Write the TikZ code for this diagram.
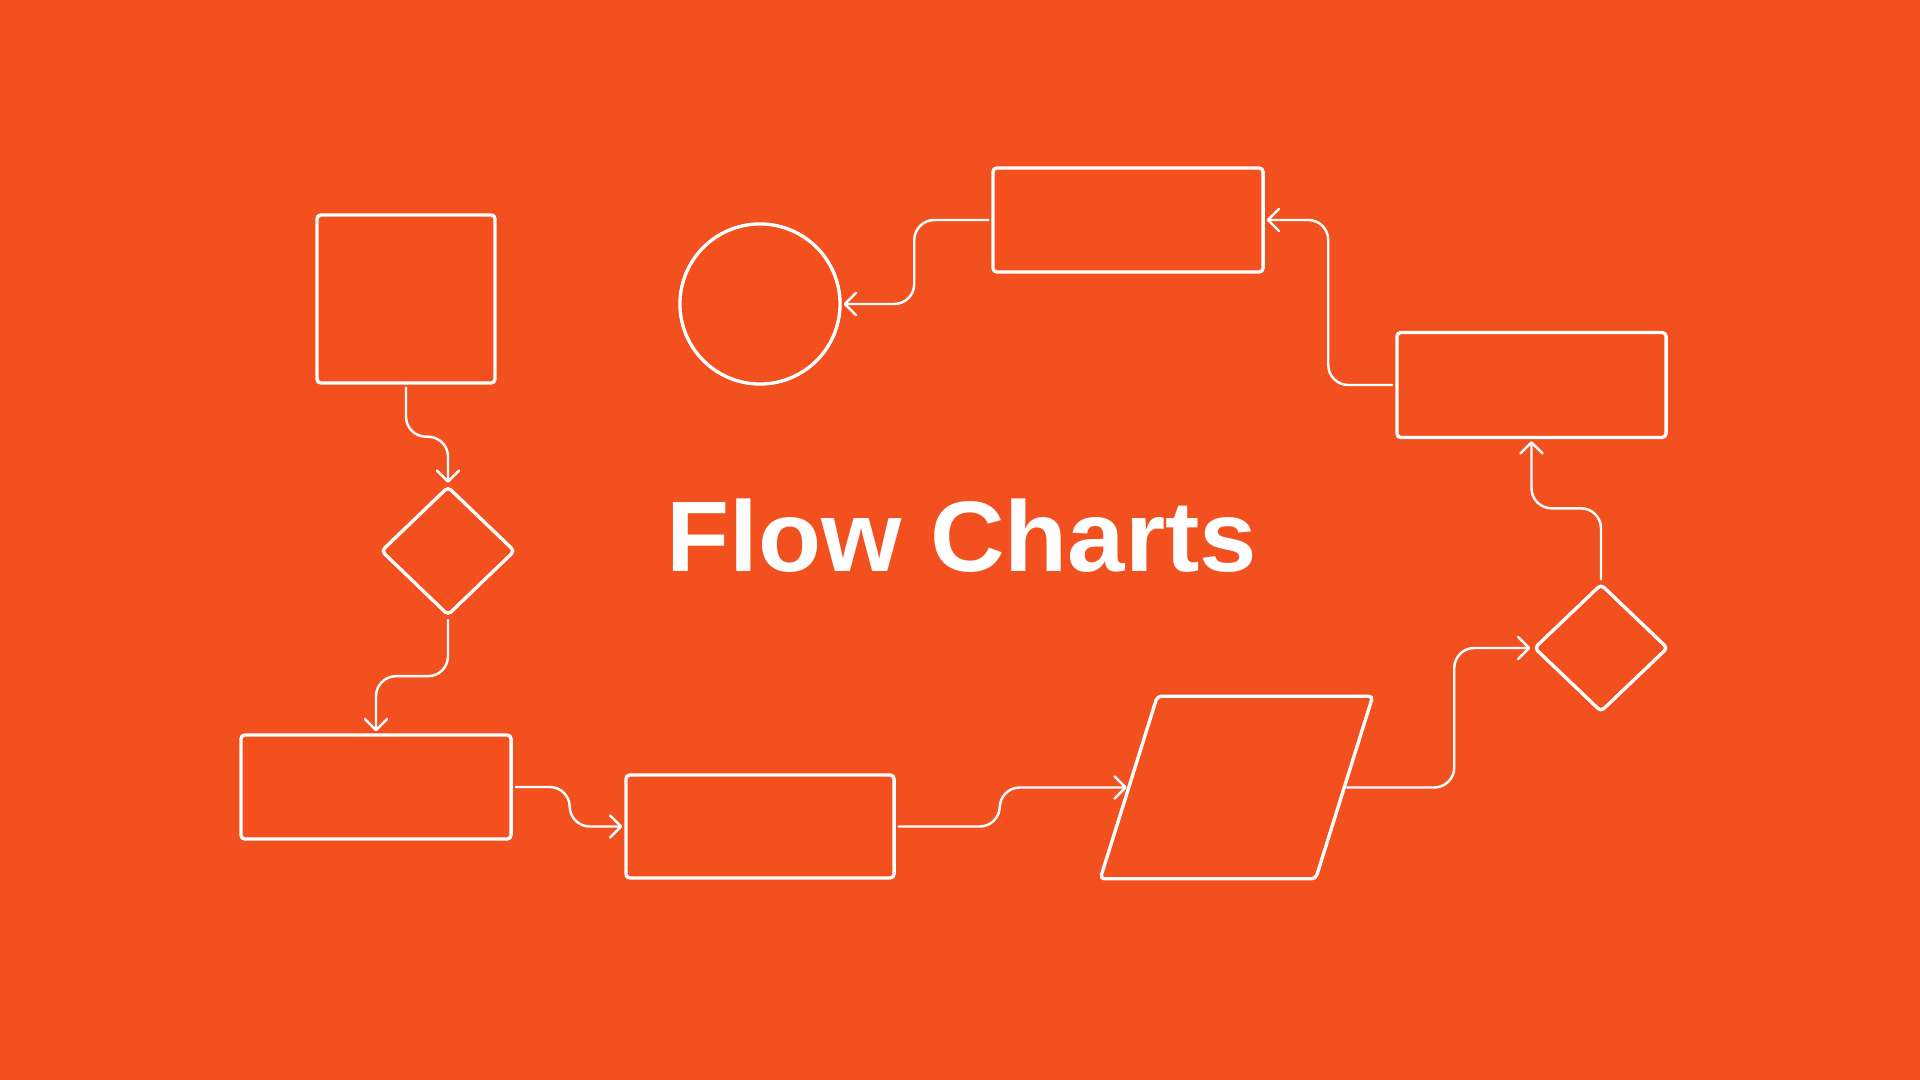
\documentclass[tikz,border=0pt]{standalone}
\usepackage{fontspec}
\setmainfont{Liberation Sans}
\usepackage{tikz}
\usetikzlibrary{shapes}
\usetikzlibrary{arrows.meta}
\usetikzlibrary{positioning}
\definecolor{flowbg}{HTML}{F3501F}
\begin{document}
\begin{tikzpicture}[x=0.01cm,y=-0.01cm,
  box/.style={rectangle,rounded corners=0.04cm,minimum width=2.7cm,minimum height=1.04cm},
  choice/.style={diamond,rounded corners=0.04cm,minimum width=1.34cm,minimum height=1.29cm},
  link/.style={draw=white,line width=0.7pt,line cap=round,rounded corners=0.2cm,shorten <=0.03cm,shorten >=0.02cm,-{Straight Barb[length=0.11cm,width=0.22cm,round]}}]
  \fill[flowbg] (0,0) rectangle (1920,1080);
  \begin{scope}[every node/.style={draw=white,line width=0.95pt,inner sep=0pt}]
    \node[box,minimum width=1.78cm,minimum height=1.68cm] (start) at (406,299) {};
    \node[choice] (check1) at (448,551) {};
    \node[box] (stepa) at (376,787) {};
    \node[box,minimum width=2.68cm,minimum height=1.03cm] (stepb) at (760,826.5) {};
    \node[draw=none,minimum width=2.12cm,minimum height=1.79cm] (data) at (1236.5,787.5) {};
    \node[choice,minimum height=1.28cm] (check2) at (1601,648) {};
    \node[box,minimum width=2.69cm,minimum height=1.05cm] (stepc) at (1531.5,385) {};
    \node[box] (stepd) at (1128,220) {};
    \node[circle,minimum size=1.6cm] (stop) at (760,304) {};
  \end{scope}
  \draw[white,line width=0.95pt,rounded corners=0.04cm] ([xshift=0.285cm]data.north west) -- ([xshift=0.285cm]data.north east)
    -- ([xshift=-0.285cm]data.south east) -- ([xshift=-0.285cm]data.south west) -- cycle;
  \node[text=white,font=\fontsize{28.5}{30}\selectfont\bfseries] (title) at (962,536) {\scalebox{1.03}[1]{Flow Charts}};
  \draw[link] (start.south) -- ++(0,52) -| (check1.north);
  \draw[link] (check1.south) -- ++(0,59) -| (stepa.north);
  \draw[link] (stepa.east) -- ++(57,0) |- (stepb.west);
  \draw[link] (stepb.east) -- ++(104,0) |- (data.west);
  \draw[link] (data.east) -- ++(110,0) |- (check2.west);
  \draw[link] (check2.north) -- ++(0,-74) -| (stepc.south);
  \draw[link] (stepc.west) -- ++(-67,0) |- (stepd.east);
  \draw[link] (stepd.west) -- ++(-77,0) |- (stop.east);
\end{tikzpicture}
\end{document}
